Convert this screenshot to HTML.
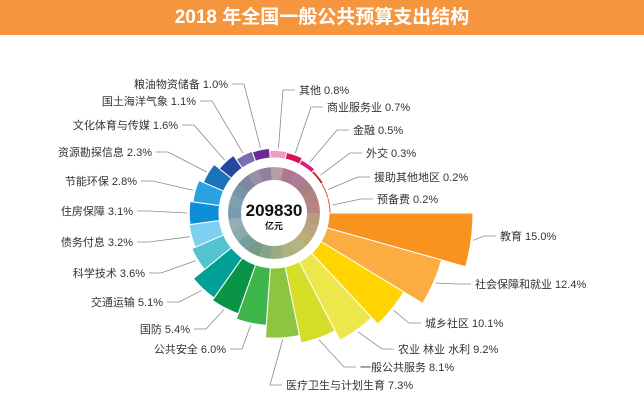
<!DOCTYPE html>
<html><head><meta charset="utf-8"><style>
body{margin:0;width:644px;height:415px;background:#fff;overflow:hidden;font-family:"Liberation Sans","Noto Sans CJK SC",sans-serif}
#hd{position:absolute;left:0;top:0;width:644px;height:35px;background:#f5953e;color:#fff;font-size:19px;font-weight:bold;text-align:center;line-height:35px}
svg{position:absolute;left:0;top:0}
</style></head><body>
<div id="hd">2018 年全国一般公共预算支出结构</div>
<svg id="s" width="644" height="415" xmlns="http://www.w3.org/2000/svg"></svg>
<script>
var d=[
["教育 15.0%",15,"#f7931e",500,240,0],
["社会保障和就业 12.4%",12.4,"#fbad42",475,288,0],
["城乡社区 10.1%",10.1,"#ffd400",425,327,0],
["农业 林业 水利 9.2%",9.2,"#ece84b",398,353,0],
["一般公共服务 8.1%",8.1,"#d4dd27",360,371,0],
["医疗卫生与计划生育 7.3%",7.3,"#8cc63e",286,389,0],
["公共安全 6.0%",6.0,"#3db54a",226,353,1],
["国防 5.4%",5.4,"#0a9447",190,333,1],
["交通运输 5.1%",5.1,"#00a096",163,306,1],
["科学技术 3.6%",3.6,"#52c3cf",145,277,1],
["债务付息 3.2%",3.2,"#7fd0f0",133,246,1],
["住房保障 3.1%",3.1,"#0a8fd8",133,215,1],
["节能环保 2.8%",2.8,"#29a3df",137,185,1],
["资源勘探信息 2.3%",2.3,"#1b73ba",152,156,1],
["文化体育与传媒 1.6%",1.6,"#24499c",178,129,1],
["国土海洋气象 1.1%",1.1,"#7b6bb2",196,105,1],
["粮油物资储备 1.0%",1.0,"#6b2c91",228,88,1],
["其他 0.8%",0.8,"#f49ac1",299,94,0],
["商业服务业 0.7%",0.7,"#d9145c",327,111,0],
["金融 0.5%",0.5,"#e0197d",353,134,0],
["外交 0.3%",0.3,"#c1272d",366,157,0],
["援助其他地区 0.2%",0.2,"#e03a3a",374,181,0],
["预备费 0.2%",0.2,"#ef4136",377,203,0]];
var cx=274,cy=213,n=d.length,st=360/n,h='';
function P(r,a){a=a*Math.PI/180;return [cx+r*Math.cos(a),cy+r*Math.sin(a)];}
function seg(r0,r1,a0,a1,f,sw){var p1=P(r0,a0),p2=P(r1,a0),p3=P(r1,a1),p4=P(r0,a1);
return '<path d="M'+p1+'L'+p2+'A'+r1+' '+r1+' 0 0 1 '+p3+'L'+p4+'A'+r0+' '+r0+' 0 0 0 '+p1+'Z" fill="'+f+'" stroke="#fff" stroke-width="'+sw+'"/>';}
h+='<circle cx="'+cx+'" cy="'+cy+'" r="46" fill="#a0a0a0"/>';
for(var i=0;i<n;i++){var a0=i*st,a1=a0+st,r1=55+d[i][1]*9.6;
h+=seg(55,r1,a0,a1,d[i][2],1);
h+=seg(33,46,a0,a1,d[i][2],0).replace('/>',' opacity="0.28"/>');
var m=P(r1+2,a0+st/2),tx=d[i][3],ty=d[i][4]-4;
if(d[i][5]){h+='<polyline points="'+m+' '+(tx+16)+','+ty+' '+(tx+4)+','+ty+'" fill="none" stroke="#8a8a8a" stroke-width="0.8"/>';
h+='<text x="'+tx+'" y="'+d[i][4]+'" text-anchor="end" font-size="11" fill="#333">'+d[i][0]+'</text>';}
else{h+='<polyline points="'+m+' '+(tx-16)+','+ty+' '+(tx-4)+','+ty+'" fill="none" stroke="#8a8a8a" stroke-width="0.8"/>';
h+='<text x="'+tx+'" y="'+d[i][4]+'" font-size="11" fill="#333">'+d[i][0]+'</text>';}}
h+='<circle cx="'+cx+'" cy="'+cy+'" r="48" fill="none" stroke="#fff" stroke-width="4"/>';
h+='<circle cx="'+cx+'" cy="'+cy+'" r="33" fill="#fff"/>';
h+='<text x="'+cx+'" y="'+(cy+3)+'" text-anchor="middle" font-size="17" font-weight="bold" fill="#111">209830</text>';
h+='<text x="'+cx+'" y="'+(cy+16)+'" text-anchor="middle" font-size="9" font-weight="bold" fill="#111">亿元</text>';
document.getElementById('s').innerHTML=h;
</script>
</body></html>
